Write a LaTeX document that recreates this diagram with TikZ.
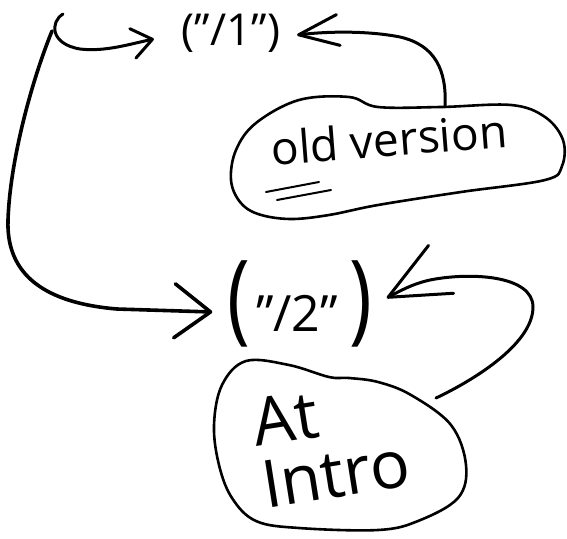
\documentclass[tikz,border=0pt]{standalone}
\usepackage{fontspec}
\usepackage{graphicx}
\setmainfont{Open Sans}
\usetikzlibrary{arrows.meta,calc}
\newcommand{\bigparen}[1]{\scalebox{1.2}[1.55]{\fontsize{64}{64}\selectfont #1}}
\begin{document}
\begin{tikzpicture}[x=1pt,y=-1pt,
  ink/.style={line width=3pt, line cap=round, line join=round},
  blob/.style={line width=2.6pt, line cap=round, line join=round},
  lbl/.style={inner sep=0pt, outer sep=0pt},
  uline/.style={line width=2pt, line cap=round},
]
\useasboundingbox (0,0) rectangle (567,538);

% labels
\node[lbl, font=\fontsize{44}{44}\selectfont] (one) at (231,33) {("/1")};
\node[lbl] (two) at (300,304) {\bigparen{(}\hspace{6pt}{\fontsize{50}{50}\selectfont"/2"}\hspace{12pt}\bigparen{)}};
\node[lbl, rotate=4.5, font=\fontsize{46}{46}\selectfont] (old) at (389,139) {old version};
\node[lbl, rotate=9, align=left, font=\fontsize{66}{62}\selectfont] (intro) at (331,443) {At\\Intro};

% blobs
\draw[blob] plot[smooth cycle, tension=0.6] coordinates {(256,123) (236,150) (231,180) (240,202) (258,214) (290,219) (329,215) (378,205) (461,192) (545,180) (562,166) (563,140) (545,117) (511,105) (441,107) (378,107) (349,97) (299,100)};
\draw[blob] plot[smooth cycle, tension=0.6] coordinates {(246,361) (289,365) (329,377) (349,378) (378,382) (411,395) (451,425) (466,465) (458,498) (418,521) (378,530) (299,528) (256,521) (232,498) (219,465) (214,425) (222,385)};

% underline of "old"
\draw[uline] (266,192) -- (319,182);
\draw[uline] (277,200) -- (331,190);

% connector end points
\coordinate (curlA) at (63,14);
\coordinate (lineA) at (52,31);
\coordinate (oldtop) at (445,107);
\coordinate (introtail) at (436,398);

% connectors
\draw[ink, -{Straight Barb[round,length=20pt,width=30pt]}] (curlA) .. controls (50,22) and (50,44) .. (80,49) .. controls (105,52) and (130,44) .. ($(one.west)+(-28,6)$);
\draw[ink, line width=3.6pt, -{Straight Barb[round,length=36pt,width=54pt]}] (lineA) .. controls (32,80) and (10,160) .. (8,220) .. controls (6,275) and (45,303) .. (117,309) -- ($(two.west)+(-15,8)$);
\draw[ink, -{Straight Barb[round,length=40pt,width=31pt]}] (oldtop) .. controls (447,70) and (435,45) .. (400,37) .. controls (370,31) and (330,31) .. ($(one.east)+(17,2)$);
\draw[ink, -{Straight Barb[round,length=60pt,width=54pt]}] (introtail) .. controls (470,382) and (533,345) .. (533,307) .. controls (533,275) and (470,272) .. (430,280) .. controls (412,284) and (400,291) .. ($(two.east)+(14,-6)$);
\end{tikzpicture}
\end{document}
